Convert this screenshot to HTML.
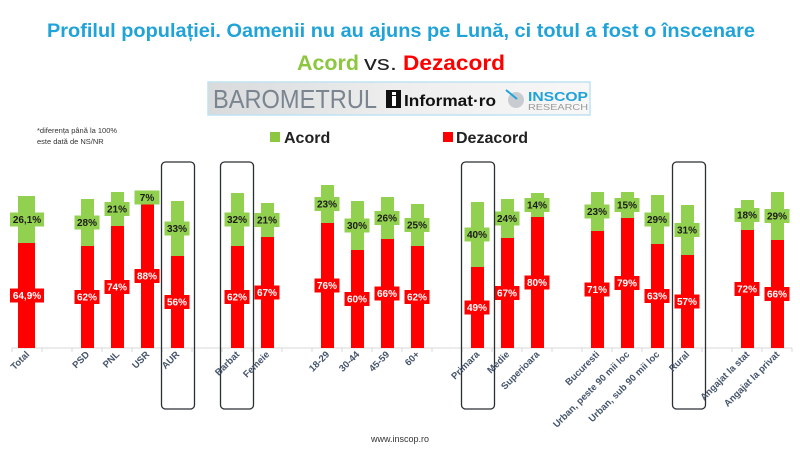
<!DOCTYPE html>
<html><head><meta charset="utf-8"><style>
html,body{margin:0;padding:0;background:#fff;}
svg{display:block;font-family:"Liberation Sans",sans-serif;}
</style></head><body>
<svg width="800" height="450" viewBox="0 0 800 450" xmlns="http://www.w3.org/2000/svg">
<text x="401" y="37" text-anchor="middle" font-size="19" font-weight="bold" fill="#1fa3d8" textLength="708" lengthAdjust="spacingAndGlyphs">Profilul populației. Oamenii nu au ajuns pe Lună, ci totul a fost o înscenare</text>
<text x="297" y="70" font-size="21" font-weight="bold" fill="#8dc63f" textLength="62" lengthAdjust="spacingAndGlyphs">Acord</text>
<text x="364" y="70" font-size="20" fill="#222" textLength="33" lengthAdjust="spacingAndGlyphs">vs.</text>
<text x="403" y="70" font-size="21" font-weight="bold" fill="#ff0000" textLength="102" lengthAdjust="spacingAndGlyphs">Dezacord</text>
<!-- logo strip -->
<defs><linearGradient id="lg" x1="0" x2="1"><stop offset="0" stop-color="#d8dadc"/><stop offset="0.5" stop-color="#eeeeee"/><stop offset="1" stop-color="#f7f7f7"/></linearGradient></defs>
<rect x="208" y="82" width="382" height="33" fill="url(#lg)" stroke="#bfe3f2" stroke-width="1.5"/>
<text x="213" y="108" font-size="26" fill="#7a8590" textLength="164" lengthAdjust="spacingAndGlyphs">BAROMETRUL</text>
<rect x="386" y="90" width="15" height="18" fill="#111"/>
<rect x="392" y="96" width="4" height="10" fill="#fff"/><rect x="392" y="92" width="4" height="3" fill="#fff"/>
<text x="404" y="106" font-size="16" font-weight="bold" fill="#111" textLength="92" lengthAdjust="spacingAndGlyphs">Informat·ro</text>
<circle cx="516" cy="100" r="8" fill="#c8ccd0"/><line x1="506" y1="90" x2="517" y2="99" stroke="#1fa3d8" stroke-width="2"/>
<text x="528" y="101" font-size="13" font-weight="bold" fill="#1fa3d8" textLength="60" lengthAdjust="spacingAndGlyphs">INSCOP</text>
<text x="528" y="110" font-size="8" fill="#999" textLength="60" lengthAdjust="spacingAndGlyphs">RESEARCH</text>
<!-- footnote & legend -->
<text x="37" y="133" font-size="7.5" fill="#333">*diferența până la 100%</text>
<text x="37" y="144" font-size="7.5" fill="#333">este dată de NS/NR</text>
<rect x="270" y="132" width="10" height="10" fill="#8dc63f"/>
<text x="284" y="143" font-size="16" font-weight="bold" fill="#222">Acord</text>
<rect x="443" y="132" width="10" height="10" fill="#ff0000"/>
<text x="456" y="143" font-size="16" font-weight="bold" fill="#222">Dezacord</text>
<!-- axis -->
<line x1="12" y1="348" x2="792" y2="348" stroke="#d9d9d9" stroke-width="1"/>
<g stroke="#d9d9d9"><line x1="12" y1="348" x2="12" y2="352"/><line x1="42" y1="348" x2="42" y2="352"/><line x1="72" y1="348" x2="72" y2="352"/><line x1="102" y1="348" x2="102" y2="352"/><line x1="132" y1="348" x2="132" y2="352"/><line x1="162" y1="348" x2="162" y2="352"/><line x1="192" y1="348" x2="192" y2="352"/><line x1="222" y1="348" x2="222" y2="352"/><line x1="252" y1="348" x2="252" y2="352"/><line x1="282" y1="348" x2="282" y2="352"/><line x1="312" y1="348" x2="312" y2="352"/><line x1="342" y1="348" x2="342" y2="352"/><line x1="372" y1="348" x2="372" y2="352"/><line x1="402" y1="348" x2="402" y2="352"/><line x1="432" y1="348" x2="432" y2="352"/><line x1="462" y1="348" x2="462" y2="352"/><line x1="492" y1="348" x2="492" y2="352"/><line x1="522" y1="348" x2="522" y2="352"/><line x1="552" y1="348" x2="552" y2="352"/><line x1="582" y1="348" x2="582" y2="352"/><line x1="612" y1="348" x2="612" y2="352"/><line x1="642" y1="348" x2="642" y2="352"/><line x1="672" y1="348" x2="672" y2="352"/><line x1="702" y1="348" x2="702" y2="352"/><line x1="732" y1="348" x2="732" y2="352"/><line x1="762" y1="348" x2="762" y2="352"/><line x1="792" y1="348" x2="792" y2="352"/></g>
<!-- bars -->
<g>
<rect x="18" y="196" width="17" height="47" fill="#92d050"/><rect x="18" y="243" width="17" height="105" fill="#ff0000"/>
<rect x="81" y="199" width="13" height="47" fill="#92d050"/><rect x="81" y="246" width="13" height="102" fill="#ff0000"/>
<rect x="111" y="192" width="13" height="34" fill="#92d050"/><rect x="111" y="226" width="13" height="122" fill="#ff0000"/>
<rect x="141" y="191" width="13" height="13" fill="#92d050"/><rect x="141" y="204" width="13" height="144" fill="#ff0000"/>
<rect x="171" y="201" width="13" height="55" fill="#92d050"/><rect x="171" y="256" width="13" height="92" fill="#ff0000"/>
<rect x="231" y="193" width="13" height="53" fill="#92d050"/><rect x="231" y="246" width="13" height="102" fill="#ff0000"/>
<rect x="261" y="203" width="13" height="34" fill="#92d050"/><rect x="261" y="237" width="13" height="111" fill="#ff0000"/>
<rect x="321" y="185" width="13" height="38" fill="#92d050"/><rect x="321" y="223" width="13" height="125" fill="#ff0000"/>
<rect x="351" y="201" width="13" height="49" fill="#92d050"/><rect x="351" y="250" width="13" height="98" fill="#ff0000"/>
<rect x="381" y="197" width="13" height="42" fill="#92d050"/><rect x="381" y="239" width="13" height="109" fill="#ff0000"/>
<rect x="411" y="204" width="13" height="42" fill="#92d050"/><rect x="411" y="246" width="13" height="102" fill="#ff0000"/>
<rect x="471" y="202" width="13" height="65" fill="#92d050"/><rect x="471" y="267" width="13" height="81" fill="#ff0000"/>
<rect x="501" y="199" width="13" height="39" fill="#92d050"/><rect x="501" y="238" width="13" height="110" fill="#ff0000"/>
<rect x="531" y="193" width="13" height="24" fill="#92d050"/><rect x="531" y="217" width="13" height="131" fill="#ff0000"/>
<rect x="591" y="192" width="13" height="39" fill="#92d050"/><rect x="591" y="231" width="13" height="117" fill="#ff0000"/>
<rect x="621" y="192" width="13" height="26" fill="#92d050"/><rect x="621" y="218" width="13" height="130" fill="#ff0000"/>
<rect x="651" y="195" width="13" height="49" fill="#92d050"/><rect x="651" y="244" width="13" height="104" fill="#ff0000"/>
<rect x="681" y="205" width="13" height="50" fill="#92d050"/><rect x="681" y="255" width="13" height="93" fill="#ff0000"/>
<rect x="741" y="200" width="13" height="30" fill="#92d050"/><rect x="741" y="230" width="13" height="118" fill="#ff0000"/>
<rect x="771" y="192" width="13" height="48" fill="#92d050"/><rect x="771" y="240" width="13" height="108" fill="#ff0000"/>
</g>
<!-- labels -->
<g font-size="10" font-weight="bold" text-anchor="middle">
<g fill="#92d050"><rect x="10" y="212.5" width="34" height="14"/><rect x="74.5" y="215.5" width="25" height="14"/><rect x="104.5" y="202" width="25" height="14"/><rect x="134.5" y="190.5" width="25" height="14"/><rect x="164.5" y="221.5" width="25" height="14"/><rect x="224.5" y="212.5" width="25" height="14"/><rect x="254.5" y="213" width="25" height="14"/><rect x="314.5" y="197" width="25" height="14"/><rect x="344.5" y="218.5" width="25" height="14"/><rect x="374.5" y="211" width="25" height="14"/><rect x="404.5" y="218" width="25" height="14"/><rect x="464.5" y="227.5" width="25" height="14"/><rect x="494.5" y="211.5" width="25" height="14"/><rect x="524.5" y="198" width="25" height="14"/><rect x="584.5" y="204.5" width="25" height="14"/><rect x="614.5" y="198" width="25" height="14"/><rect x="644.5" y="212.5" width="25" height="14"/><rect x="674.5" y="223" width="25" height="14"/><rect x="734.5" y="208" width="25" height="14"/><rect x="764.5" y="209" width="25" height="14"/></g>
<g fill="#ff0000"><rect x="10" y="288.5" width="34" height="14"/><rect x="74.5" y="290" width="25" height="14"/><rect x="104.5" y="280" width="25" height="14"/><rect x="134.5" y="269" width="25" height="14"/><rect x="164.5" y="295" width="25" height="14"/><rect x="224.5" y="290" width="25" height="14"/><rect x="254.5" y="285.5" width="25" height="14"/><rect x="314.5" y="278.5" width="25" height="14"/><rect x="344.5" y="292" width="25" height="14"/><rect x="374.5" y="286.5" width="25" height="14"/><rect x="404.5" y="290" width="25" height="14"/><rect x="464.5" y="300.5" width="25" height="14"/><rect x="494.5" y="286" width="25" height="14"/><rect x="524.5" y="275.5" width="25" height="14"/><rect x="584.5" y="282.5" width="25" height="14"/><rect x="614.5" y="276" width="25" height="14"/><rect x="644.5" y="289" width="25" height="14"/><rect x="674.5" y="294.5" width="25" height="14"/><rect x="734.5" y="282" width="25" height="14"/><rect x="764.5" y="287" width="25" height="14"/></g>
<g fill="#1a1a1a"><text x="27" y="223">26,1%</text><text x="87" y="226">28%</text><text x="117" y="212.5">21%</text><text x="147" y="201">7%</text><text x="177" y="232">33%</text><text x="237" y="223">32%</text><text x="267" y="223.5">21%</text><text x="327" y="207.5">23%</text><text x="357" y="229">30%</text><text x="387" y="221.5">26%</text><text x="417" y="228.5">25%</text><text x="477" y="238">40%</text><text x="507" y="222">24%</text><text x="537" y="208.5">14%</text><text x="597" y="215">23%</text><text x="627" y="208.5">15%</text><text x="657" y="223">29%</text><text x="687" y="233.5">31%</text><text x="747" y="218.5">18%</text><text x="777" y="219.5">29%</text></g>
<g fill="#fff"><text x="27" y="299">64,9%</text><text x="87" y="300.5">62%</text><text x="117" y="290.5">74%</text><text x="147" y="279.5">88%</text><text x="177" y="305.5">56%</text><text x="237" y="300.5">62%</text><text x="267" y="296">67%</text><text x="327" y="289">76%</text><text x="357" y="302.5">60%</text><text x="387" y="297">66%</text><text x="417" y="300.5">62%</text><text x="477" y="311">49%</text><text x="507" y="296.5">67%</text><text x="537" y="286">80%</text><text x="597" y="293">71%</text><text x="627" y="286.5">79%</text><text x="657" y="299.5">63%</text><text x="687" y="305">57%</text><text x="747" y="292.5">72%</text><text x="777" y="297.5">66%</text></g>
</g>
<!-- frames -->
<g fill="none" stroke="#2b2f33" stroke-width="1.3">
<rect x="161.5" y="162" width="33" height="247" rx="4"/><rect x="220.5" y="162" width="33" height="247" rx="4"/><rect x="461.5" y="162" width="33" height="247" rx="4"/><rect x="672.5" y="162" width="33" height="247" rx="4"/>
</g>
<!-- x labels -->
<g font-size="9.5" font-weight="bold" fill="#44546a" text-anchor="end">
<text transform="translate(30,355) rotate(-45)">Total</text>
<text transform="translate(90,355) rotate(-45)">PSD</text>
<text transform="translate(120,355) rotate(-45)">PNL</text>
<text transform="translate(150,355) rotate(-45)">USR</text>
<text transform="translate(180,355) rotate(-45)">AUR</text>
<text transform="translate(240,355) rotate(-45)">Barbat</text>
<text transform="translate(270,355) rotate(-45)">Femeie</text>
<text transform="translate(330,355) rotate(-45)">18-29</text>
<text transform="translate(360,355) rotate(-45)">30-44</text>
<text transform="translate(390,355) rotate(-45)">45-59</text>
<text transform="translate(420,355) rotate(-45)">60+</text>
<text transform="translate(480,355) rotate(-45)">Primara</text>
<text transform="translate(510,355) rotate(-45)">Medie</text>
<text transform="translate(540,355) rotate(-45)">Superioara</text>
<text transform="translate(600,355) rotate(-45)">Bucuresti</text>
<text transform="translate(630,355) rotate(-45)">Urban, peste 90 mii loc</text>
<text transform="translate(660,355) rotate(-45)">Urban, sub 90 mii loc</text>
<text transform="translate(690,355) rotate(-45)">Rural</text>
<text transform="translate(750,355) rotate(-45)">Angajat la stat</text>
<text transform="translate(780,355) rotate(-45)">Angajat la privat</text>
</g>
<text x="400" y="442" text-anchor="middle" font-size="9" fill="#333">www.inscop.ro</text>
</svg>
</body></html>
